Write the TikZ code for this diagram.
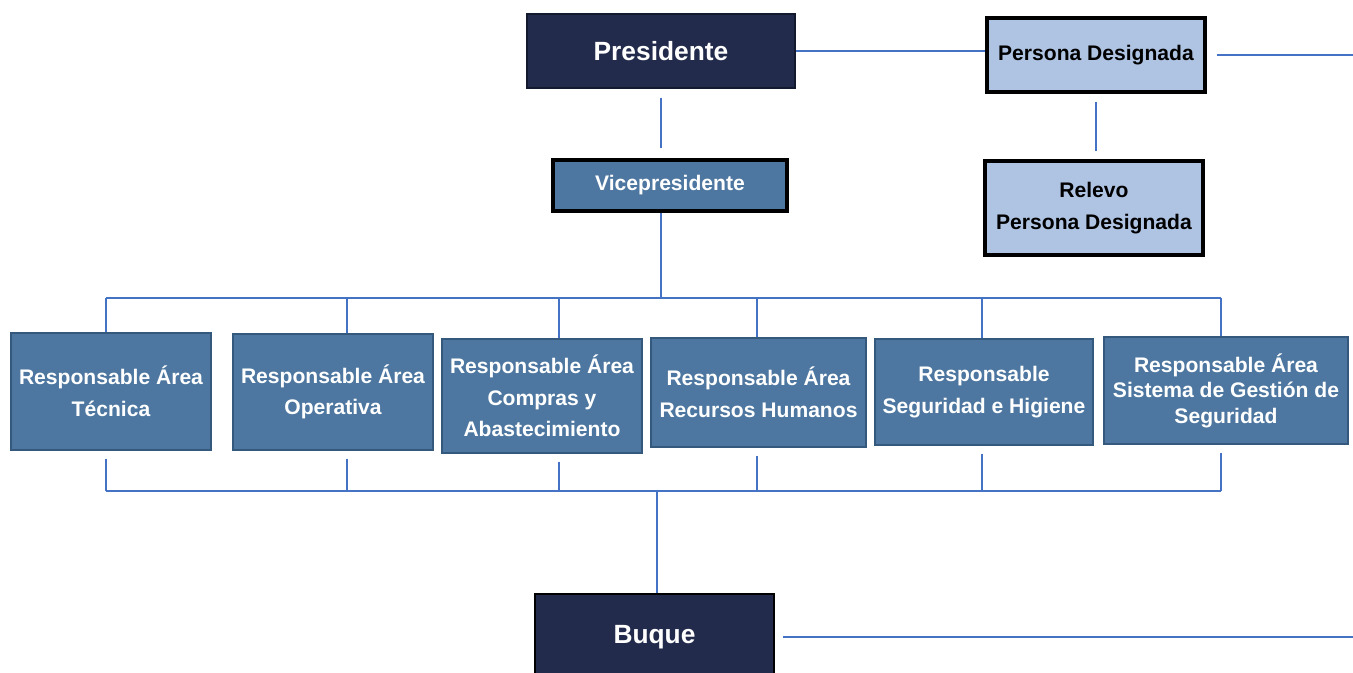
\documentclass[tikz,border=0pt]{standalone}
\usepackage{fontspec}
\setmainfont{Liberation Sans}
\setsansfont{Liberation Sans}
\definecolor{orgNavy}{HTML}{222B4C}
\definecolor{orgSteel}{HTML}{4D77A0}
\definecolor{orgSteelDark}{HTML}{34597D}
\definecolor{orgPale}{HTML}{AFC3E3}
\definecolor{orgLine}{HTML}{4472C4}
\tikzset{
  org diagram/.style={x=0.02cm, y=-0.02cm,
    font=\sffamily\bfseries\fontsize{12}{18}\selectfont},
  org box/.style={align=center, inner sep=2pt, line width=0.8pt},
  org top box/.style={org box, fill=orgNavy, draw=orgNavy!60!black, text=white,
    font=\sffamily\bfseries\fontsize{15}{18}\selectfont},
  org mid box/.style={org box, fill=orgSteel, draw=black, line width=1.8pt, text=white},
  org area box/.style={org box, fill=orgSteel, draw=orgSteelDark, text=white},
  org pale box/.style={org box, fill=orgPale, draw=black, line width=1.8pt, text=black},
  org line/.style={draw=orgLine, line width=0.7pt}
}

\begin{document}
\begin{tikzpicture}[org diagram]
\useasboundingbox (0,0) rectangle (1353,673);
\node[org top box, minimum width=5.36cm, minimum height=1.48cm] (pres) at (661,51) {Presidente};
\node[org pale box, minimum width=4.36cm, minimum height=1.48cm] (pdes) at (1096,55) {Persona Designada};
\node[org pale box, minimum width=4.36cm, minimum height=1.88cm] (relevo) at (1094,208) {Relevo\\Persona Designada};
\node[org mid box, minimum width=4.68cm, minimum height=1.02cm] (vice) at (670,185.5) {Vicepresidente};
\node[org area box, minimum width=4.0cm, minimum height=2.34cm] (a1) at (111,391.5) {Responsable Área\\Técnica};
\node[org area box, minimum width=4.0cm, minimum height=2.32cm] (a2) at (333,392) {Responsable Área\\Operativa};
\node[org area box, minimum width=4.0cm, minimum height=2.28cm] (a3) at (542,396) {Responsable Área\\Compras y\\Abastecimiento};
\node[org area box, minimum width=4.3cm, minimum height=2.18cm] (a4) at (758.5,392.5) {Responsable Área\\Recursos Humanos};
\node[org area box, minimum width=4.36cm, minimum height=2.12cm] (a5) at (984,392) {Responsable\\Seguridad e Higiene};
\node[org area box, minimum width=4.88cm, minimum height=2.14cm,
  font=\sffamily\bfseries\fontsize{12}{14.5}\selectfont] (a6) at (1226,390.5) {Responsable Área\\Sistema de Gestión de\\Seguridad};
\node[org top box, minimum width=4.78cm, minimum height=1.72cm, draw=black] (buque) at (654.5,637) {Buque};

\coordinate (pdesEnd) at (1353,55);
\coordinate (buqueEnd) at (1353,637);
\coordinate (busTop) at (661,298);
\coordinate (busBot) at (657,491);

\draw[org line] (pres.east) -- (pres.east -| pdes.west);
\draw[org line, shorten <=0.2cm] (pdes.east) -- (pdesEnd);
\draw[org line, shorten <=0.18cm, shorten >=0.2cm] (pres.south) -- (pres.south |- vice.north);
\draw[org line, shorten <=0.16cm, shorten >=0.16cm] (pdes.south) -- (pdes.south |- relevo.north);
\draw[org line] (pres.south |- vice.south) -- (busTop);
\foreach \n/\x in {1/106,2/347,3/559,4/757,5/982,6/1221}{
  \coordinate (t\n) at (\x,298);
  \coordinate (b\n) at (\x,491);
  \draw[org line] (t\n) -- (t\n |- a\n.north);
  \draw[org line, shorten <=0.16cm] (b\n |- a\n.south) -- (b\n);
}
\draw[org line] (t1) -- (t6);
\draw[org line] (b1) -- (b6);
\draw[org line] (busBot) -- (busBot |- buque.north);
\draw[org line, shorten <=0.16cm] (buque.east) -- (buqueEnd);
\end{tikzpicture}
\end{document}
